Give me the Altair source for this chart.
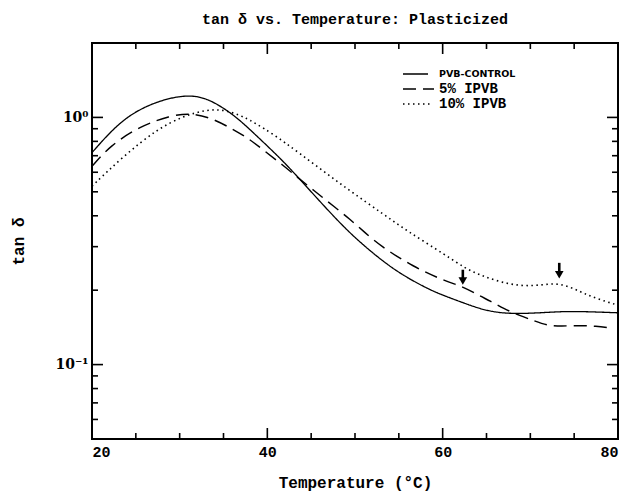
import altair as alt
import pandas as pd

# ---------------- data ----------------
series_names = ["PVB-CONTROL", "-5% IPVB", "10% IPVB"]
legend_labels = ["PVB-CONTROL", "5% IPVB", "10% IPVB"]
title_text = "tan δ vs. Temperature: Plasticized"

ctrl_T = [20, 22, 24.3, 27.4, 30.6, 33.1, 36.1, 38.0, 41.8, 43.7, 45.6, 47.5, 49.8, 52.9,
          55.5, 58.6, 60.5, 62.5, 64.3, 66, 67.5, 70, 73.4, 76, 80]
ctrl_v = [0.72, 0.868, 1.028, 1.163, 1.235, 1.205, 1.03, 0.895, 0.667, 0.562, 0.474, 0.40,
          0.330, 0.266, 0.229, 0.200, 0.188, 0.177, 0.168, 0.163, 0.161, 0.161, 0.164, 0.164, 0.162]

ipvb5_T = [20, 22, 25.5, 28.9, 31.2, 33.5, 36.1, 38.0, 39.5, 41.8, 43.7, 45.6, 47.5, 49.4,
           51.1, 52.9, 56.6, 60.5, 62.3, 64.3, 65.4, 67, 68.8, 70.5, 71.9, 73.5, 75.7, 77.5, 79]
ipvb5_v = [0.634, 0.766, 0.923, 1.015, 1.042, 1.0, 0.895, 0.815, 0.74, 0.64, 0.562, 0.497,
           0.439, 0.388, 0.343, 0.302, 0.249, 0.216, 0.207, 0.189, 0.181, 0.168, 0.158, 0.15,
           0.144, 0.143, 0.144, 0.143, 0.141]

ipvb10_T = [20, 23.6, 27.4, 30.4, 33.1, 35.0, 36.9, 38.0, 39.5, 41.8, 45.6, 49.4, 53.2, 55.9,
            60.5, 62.5, 64.3, 66.5, 68.8, 71, 73.4, 75.7, 77.5, 80]
ipvb10_v = [0.527, 0.698, 0.895, 1.012, 1.075, 1.075, 1.02, 0.975, 0.909, 0.803, 0.636, 0.505,
            0.407, 0.348, 0.275, 0.246, 0.23, 0.216, 0.208, 0.209, 0.215, 0.197, 0.185, 0.174]

arrow_T = [62.3, 73.3]
arrow_top = [0.242, 0.258]
arrow_head = [0.218, 0.231]

x_major = [20, 40, 60, 80]
x_minor = [25, 30, 35, 45, 50, 55, 65, 70, 75]
y_major = [0.1, 1]
y_minor = [0.06, 0.07, 0.08, 0.09, 0.2, 0.3, 0.4, 0.5, 0.6, 0.7, 0.8, 0.9]

# ---------------- tables ----------------
rows = []
for name, Ts, vs in zip(series_names, [ctrl_T, ipvb5_T, ipvb10_T], [ctrl_v, ipvb5_v, ipvb10_v]):
    for t, v in zip(Ts, vs):
        rows.append({"T": t, "v": v, "series": name})
df_lines = pd.DataFrame(rows)
df_arrows = pd.DataFrame({"T": arrow_T, "top": arrow_top, "head": arrow_head})

# ---------------- styling ----------------
W, H = 526, 396
FONT = "Liberation Mono"
SUPFONT = "DejaVu Serif"
dashes = [[1, 0], [13, 7], [1.5, 3.5]]
widths = [1.3, 1.6, 1.6]
MAJOR, MINOR = 11, 6

xs = alt.Scale(domain=[20, 80], nice=False, zero=False)
ys = alt.Scale(type="log", domain=[0.05, 2], nice=False)

ax_x_lab = alt.Axis(
    orient="bottom", values=x_major, ticks=False, domain=False, grid=False,
    labelFlush=True, labelFont=FONT, labelFontSize=15, labelFontWeight="bold",
    labelColor="black", labelPadding=5, title="Temperature (°C)", titleFont=FONT,
    titleFontSize=16, titleFontWeight="bold", titleColor="black", titleX=W / 2,
    titleY=43, titleAlign="center", titleBaseline="middle",
)
ax_y_lab = alt.Axis(
    orient="left", values=y_major, ticks=False, domain=False, grid=False,
    labelExpr="datum.value > 0.5 ? '10⁰' : '10⁻¹'", labelFlush=False,
    labelFont=SUPFONT, labelFontSize=14, labelFontWeight="bold", labelColor="black",
    labelPadding=4, title="tan δ", titleFont=FONT, titleFontSize=16,
    titleFontWeight="bold", titleColor="black", titleAngle=270, titleX=-74,
    titleY=H / 2, titleAlign="center", titleBaseline="middle",
)

lines = alt.Chart(df_lines).mark_line(interpolate="basis", color="black", clip=True).encode(
    x=alt.X("T:Q", scale=xs, axis=ax_x_lab),
    y=alt.Y("v:Q", scale=ys, axis=ax_y_lab),
    strokeDash=alt.StrokeDash("series:N", scale=alt.Scale(domain=series_names, range=dashes), legend=None),
    strokeWidth=alt.StrokeWidth("series:N", scale=alt.Scale(domain=series_names, range=widths), legend=None),
)

arrow_shaft = alt.Chart(df_arrows).mark_rule(color="black", strokeWidth=2.6).encode(
    x=alt.X("T:Q", scale=xs, axis=None),
    y=alt.Y("top:Q", scale=ys, axis=None),
    y2="head:Q",
)
arrow_tip = alt.Chart(df_arrows).mark_point(
    shape="triangle-down", filled=True, size=75, color="black", opacity=1
).encode(
    x=alt.X("T:Q", scale=xs, axis=None),
    y=alt.Y("head:Q", scale=ys, axis=None),
)

# ---------------- inward ticks on all four sides ----------------
tick_layers = []
for vals, L in [(x_major, MAJOR), (x_minor, MINOR)]:
    d = pd.DataFrame({"T": vals})
    for y0, y1 in [(H, H - L), (0, L)]:
        tick_layers.append(
            alt.Chart(d).mark_rule(color="black", strokeWidth=1.6).encode(
                x=alt.X("T:Q", scale=xs, axis=None), y=alt.value(y0), y2=alt.value(y1)
            )
        )
for vals, L in [(y_major, MAJOR), (y_minor, MINOR)]:
    d = pd.DataFrame({"v": vals})
    for x0, x1 in [(0, L), (W, W - L)]:
        tick_layers.append(
            alt.Chart(d).mark_rule(color="black", strokeWidth=1.6).encode(
                y=alt.Y("v:Q", scale=ys, axis=None), x=alt.value(x0), x2=alt.value(x1)
            )
        )

# ---------------- hand-drawn legend (top right) and title ----------------
one = alt.Data(values=[{}])
leg_x0, leg_y0, leg_dy = 311, 31, 15
leg_len = [25, 31, 27]
leg_fonts = [("DejaVu Sans", 9.5, "bold"), (FONT, 14, "bold"), (FONT, 14, "bold")]
legend_layers = []
for i, lab in enumerate(legend_labels):
    yy = leg_y0 + i * leg_dy
    legend_layers.append(
        alt.Chart(one).mark_rule(color="black", strokeWidth=widths[i], strokeDash=dashes[i]).encode(
            x=alt.value(leg_x0), x2=alt.value(leg_x0 + leg_len[i]), y=alt.value(yy)
        )
    )
    f, fs, fw = leg_fonts[i]
    legend_layers.append(
        alt.Chart(one).mark_text(align="left", baseline="middle", font=f, fontSize=fs,
                                 fontWeight=fw, color="black").encode(
            x=alt.value(leg_x0 + 36), y=alt.value(yy), text=alt.value(lab)
        )
    )

title_layer = alt.Chart(one).mark_text(
    align="center", baseline="alphabetic", font=FONT, fontSize=15, fontWeight="bold", color="black"
).encode(x=alt.value(W / 2), y=alt.value(-19), text=alt.value(title_text))

chart = alt.layer(
    lines, arrow_shaft, arrow_tip, *tick_layers, *legend_layers, title_layer
).resolve_axis(
    x="independent", y="independent"
).properties(
    width=W, height=H,
    padding={"left": 92, "top": 43, "right": 3, "bottom": 52},
    autosize=alt.AutoSizeParams(type="none"),
    background="white",
).configure_view(stroke="black", strokeWidth=2)

chart.save("out.html", embed_options={"renderer": "svg", "actions": False})
